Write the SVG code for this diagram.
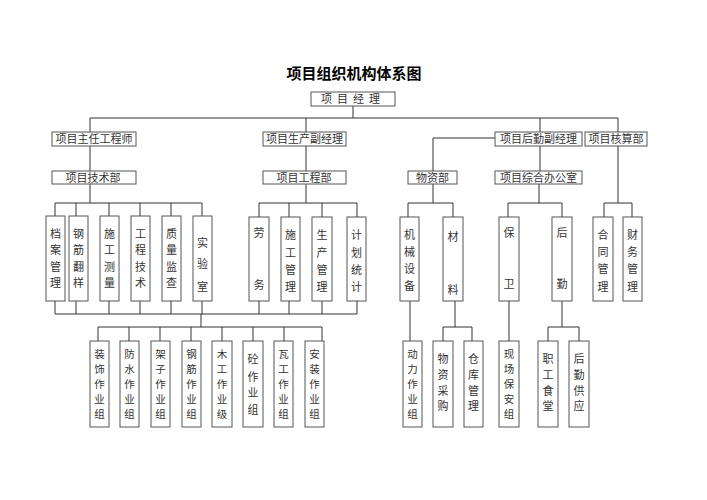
<svg xmlns="http://www.w3.org/2000/svg" width="707" height="500" viewBox="0 0 707 500">
<style>
.bx{fill:#fff;stroke:#555;stroke-width:1}
.t{font-family:"Noto Sans CJK SC","Noto Sans",sans-serif;font-size:11px;fill:#333;text-anchor:middle}
.s{font-size:10.5px}
.ttl{font-family:"Noto Sans CJK SC",sans-serif;font-size:15px;font-weight:bold;fill:#000;text-anchor:middle}
.ln{fill:none;stroke:#333;stroke-width:1}
</style>
<rect width="707" height="500" fill="#fff"/>
<text class="ttl" x="354" y="79">项目组织机构体系图</text>
<g id="connectors" class="ln">
<path d="M353,106V118M90,118H618M90,118V132M306,118V132M540,118V132M618,118V132"/>
<path d="M90,146V172M306,146V172M540,146V172M495,138H433V172M618,146V203"/>
<path d="M90,184V203M55,203H202M55,203V216M76,203V216M109,203V216M140,203V216M171,203V216M202,203V216"/>
<path d="M306,184V203M259,203H357M259,203V217M289,203V217M322,203V217M357,203V217"/>
<path d="M433,184V203M408,203H453M408,203V217M453,203V217"/>
<path d="M539,184V203M508,203H562M508,203V217M562,203V217"/>
<path d="M604,203H632M604,203V217M632,203V217"/>
<path d="M55,301V314M76,301V314M109,301V314M140,301V314M171,301V314M202,301V314M259,301V314M289,301V314M322,301V314M357,301V314M55,314H357"/>
<path d="M201,314V327M98,327H322M98,327V341M129,327V341M160,327V341M191,327V341M222,327V341M253,327V341M284,327V341M322,327V341"/>
<path d="M410,301V341M455,301V327M443,327H472M443,327V341M472,327V341M509,301V341M562,301V327M548,327H579M548,327V341M579,327V341"/>
</g>
<g id="n-pm"><rect class="bx" x="311" y="92" width="84" height="14"/><text class="t" x="353" y="103" style="letter-spacing:5px">项目经理</text></g>
<g id="n-chief"><rect class="bx" x="52" y="132" width="84" height="14"/><text class="t" x="94" y="143">项目主任工程师</text></g>
<g id="n-prod"><rect class="bx" x="263" y="132" width="83" height="14"/><text class="t" x="304.5" y="143">项目生产副经理</text></g>
<g id="n-log"><rect class="bx" x="495" y="132" width="87" height="14"/><text class="t" x="538.5" y="143">项目后勤副经理</text></g>
<g id="n-acc"><rect class="bx" x="585" y="132" width="62" height="14"/><text class="t" x="616" y="143">项目核算部</text></g>
<g id="n-tech"><rect class="bx" x="52" y="171" width="84" height="13"/><text class="t" x="93" y="182">项目技术部</text></g>
<g id="n-eng"><rect class="bx" x="263" y="171" width="83" height="13"/><text class="t" x="304" y="182">项目工程部</text></g>
<g id="n-mat"><rect class="bx" x="408" y="171" width="49" height="13"/><text class="t" x="432.5" y="182">物资部</text></g>
<g id="n-off"><rect class="bx" x="495" y="171" width="87" height="13"/><text class="t" x="538.5" y="182">项目综合办公室</text></g>
<g id="n-a1"><rect class="bx" x="46" y="216" width="19" height="85"/><text class="t"><tspan x="55.5" y="238">档</tspan><tspan x="55.5" y="254">案</tspan><tspan x="55.5" y="271">管</tspan><tspan x="55.5" y="287">理</tspan></text></g>
<g id="n-a2"><rect class="bx" x="69" y="216" width="19" height="85"/><text class="t"><tspan x="78.5" y="238">钢</tspan><tspan x="78.5" y="254">筋</tspan><tspan x="78.5" y="271">翻</tspan><tspan x="78.5" y="287">样</tspan></text></g>
<g id="n-a3"><rect class="bx" x="100" y="216" width="19" height="85"/><text class="t"><tspan x="109.5" y="238">施</tspan><tspan x="109.5" y="254">工</tspan><tspan x="109.5" y="271">测</tspan><tspan x="109.5" y="287">量</tspan></text></g>
<g id="n-a4"><rect class="bx" x="131" y="216" width="19" height="85"/><text class="t"><tspan x="140.5" y="238">工</tspan><tspan x="140.5" y="254">程</tspan><tspan x="140.5" y="271">技</tspan><tspan x="140.5" y="287">术</tspan></text></g>
<g id="n-a5"><rect class="bx" x="162" y="216" width="19" height="85"/><text class="t"><tspan x="171.5" y="238">质</tspan><tspan x="171.5" y="254">量</tspan><tspan x="171.5" y="271">监</tspan><tspan x="171.5" y="287">查</tspan></text></g>
<g id="n-a6"><rect class="bx" x="193" y="216" width="19" height="85"/><text class="t"><tspan x="202.5" y="247">实</tspan><tspan x="202.5" y="268">验</tspan><tspan x="202.5" y="291">室</tspan></text></g>
<g id="n-b1"><rect class="bx" x="249" y="217" width="20" height="84"/><text class="t"><tspan x="259" y="237">劳</tspan><tspan x="259" y="289">务</tspan></text></g>
<g id="n-b2"><rect class="bx" x="281" y="217" width="19" height="84"/><text class="t"><tspan x="290.5" y="239">施</tspan><tspan x="290.5" y="257">工</tspan><tspan x="290.5" y="274">管</tspan><tspan x="290.5" y="291">理</tspan></text></g>
<g id="n-b3"><rect class="bx" x="312" y="217" width="20" height="84"/><text class="t"><tspan x="322" y="239">生</tspan><tspan x="322" y="257">产</tspan><tspan x="322" y="274">管</tspan><tspan x="322" y="291">理</tspan></text></g>
<g id="n-b4"><rect class="bx" x="347" y="217" width="19" height="84"/><text class="t"><tspan x="356.5" y="239">计</tspan><tspan x="356.5" y="257">划</tspan><tspan x="356.5" y="274">统</tspan><tspan x="356.5" y="291">计</tspan></text></g>
<g id="n-c1"><rect class="bx" x="400" y="217" width="19" height="84"/><text class="t"><tspan x="409.5" y="239">机</tspan><tspan x="409.5" y="256">械</tspan><tspan x="409.5" y="273">设</tspan><tspan x="409.5" y="290">备</tspan></text></g>
<g id="n-c2"><rect class="bx" x="443" y="217" width="20" height="84"/><text class="t"><tspan x="453" y="241">材</tspan><tspan x="453" y="294">料</tspan></text></g>
<g id="n-d1"><rect class="bx" x="499" y="217" width="20" height="84"/><text class="t"><tspan x="509" y="237">保</tspan><tspan x="509" y="288">卫</tspan></text></g>
<g id="n-d2"><rect class="bx" x="552" y="217" width="20" height="84"/><text class="t"><tspan x="562" y="237">后</tspan><tspan x="562" y="288">勤</tspan></text></g>
<g id="n-e1"><rect class="bx" x="593" y="217" width="20" height="84"/><text class="t"><tspan x="603" y="239">合</tspan><tspan x="603" y="256">同</tspan><tspan x="603" y="273">管</tspan><tspan x="603" y="291">理</tspan></text></g>
<g id="n-e2"><rect class="bx" x="623" y="217" width="19" height="84"/><text class="t"><tspan x="632.5" y="239">财</tspan><tspan x="632.5" y="256">务</tspan><tspan x="632.5" y="273">管</tspan><tspan x="632.5" y="291">理</tspan></text></g>
<g id="n-f1"><rect class="bx" x="90" y="341" width="19" height="86"/><text class="t s"><tspan x="99.5" y="358">装</tspan><tspan x="99.5" y="373">饰</tspan><tspan x="99.5" y="388">作</tspan><tspan x="99.5" y="403">业</tspan><tspan x="99.5" y="418">组</tspan></text></g>
<g id="n-f2"><rect class="bx" x="120" y="341" width="19" height="86"/><text class="t s"><tspan x="129.5" y="358">防</tspan><tspan x="129.5" y="373">水</tspan><tspan x="129.5" y="388">作</tspan><tspan x="129.5" y="403">业</tspan><tspan x="129.5" y="418">组</tspan></text></g>
<g id="n-f3"><rect class="bx" x="151" y="341" width="19" height="86"/><text class="t s"><tspan x="160.5" y="358">架</tspan><tspan x="160.5" y="373">子</tspan><tspan x="160.5" y="388">作</tspan><tspan x="160.5" y="403">业</tspan><tspan x="160.5" y="418">组</tspan></text></g>
<g id="n-f4"><rect class="bx" x="182" y="341" width="19" height="86"/><text class="t s"><tspan x="191.5" y="358">钢</tspan><tspan x="191.5" y="373">筋</tspan><tspan x="191.5" y="388">作</tspan><tspan x="191.5" y="403">业</tspan><tspan x="191.5" y="418">组</tspan></text></g>
<g id="n-f5"><rect class="bx" x="212" y="341" width="20" height="86"/><text class="t s"><tspan x="222" y="358">木</tspan><tspan x="222" y="373">工</tspan><tspan x="222" y="388">作</tspan><tspan x="222" y="403">业</tspan><tspan x="222" y="418">级</tspan></text></g>
<g id="n-f6"><rect class="bx" x="243" y="341" width="20" height="86"/><text class="t"><tspan x="253" y="363">砼</tspan><tspan x="253" y="381">作</tspan><tspan x="253" y="397">业</tspan><tspan x="253" y="414">组</tspan></text></g>
<g id="n-f7"><rect class="bx" x="274" y="341" width="19" height="86"/><text class="t s"><tspan x="283.5" y="358">瓦</tspan><tspan x="283.5" y="373">工</tspan><tspan x="283.5" y="388">作</tspan><tspan x="283.5" y="403">业</tspan><tspan x="283.5" y="418">组</tspan></text></g>
<g id="n-f8"><rect class="bx" x="305" y="341" width="19" height="86"/><text class="t s"><tspan x="314.5" y="358">安</tspan><tspan x="314.5" y="373">装</tspan><tspan x="314.5" y="388">作</tspan><tspan x="314.5" y="403">业</tspan><tspan x="314.5" y="418">组</tspan></text></g>
<g id="n-g1"><rect class="bx" x="403" y="341" width="19" height="86"/><text class="t s"><tspan x="412.5" y="358">动</tspan><tspan x="412.5" y="373">力</tspan><tspan x="412.5" y="388">作</tspan><tspan x="412.5" y="403">业</tspan><tspan x="412.5" y="418">组</tspan></text></g>
<g id="n-g2"><rect class="bx" x="433" y="341" width="20" height="86"/><text class="t"><tspan x="443" y="363">物</tspan><tspan x="443" y="379">资</tspan><tspan x="443" y="395">采</tspan><tspan x="443" y="410">购</tspan></text></g>
<g id="n-g3"><rect class="bx" x="464" y="341" width="19" height="86"/><text class="t"><tspan x="473.5" y="363">仓</tspan><tspan x="473.5" y="379">库</tspan><tspan x="473.5" y="395">管</tspan><tspan x="473.5" y="410">理</tspan></text></g>
<g id="n-g4"><rect class="bx" x="499" y="341" width="20" height="86"/><text class="t s"><tspan x="509" y="358">现</tspan><tspan x="509" y="373">场</tspan><tspan x="509" y="388">保</tspan><tspan x="509" y="403">安</tspan><tspan x="509" y="418">组</tspan></text></g>
<g id="n-g5"><rect class="bx" x="538" y="341" width="20" height="86"/><text class="t"><tspan x="548" y="363">职</tspan><tspan x="548" y="379">工</tspan><tspan x="548" y="395">食</tspan><tspan x="548" y="410">堂</tspan></text></g>
<g id="n-g6"><rect class="bx" x="569" y="341" width="20" height="86"/><text class="t"><tspan x="579" y="363">后</tspan><tspan x="579" y="379">勤</tspan><tspan x="579" y="395">供</tspan><tspan x="579" y="410">应</tspan></text></g>
</svg>
